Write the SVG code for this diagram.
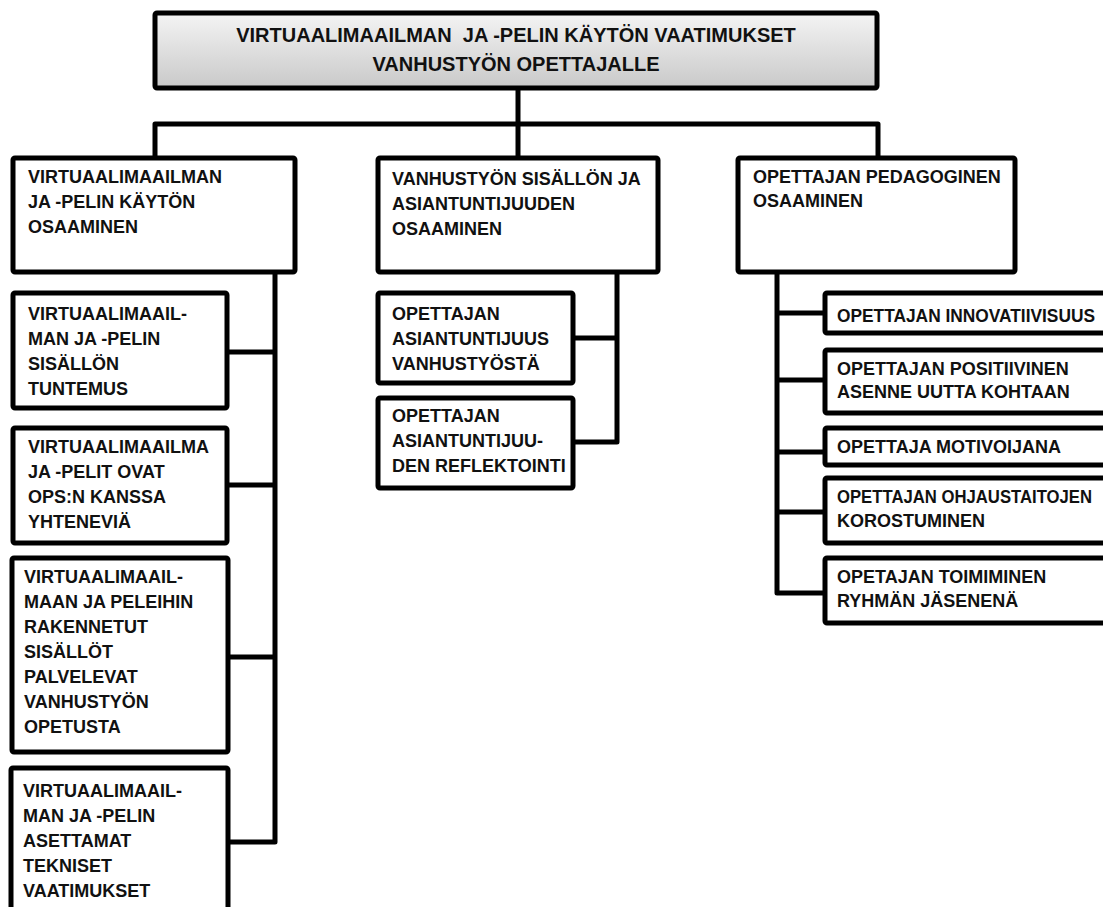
<svg xmlns="http://www.w3.org/2000/svg" width="1103" height="907" viewBox="0 0 1103 907">
<defs>
<linearGradient id="tg" x1="0" y1="0" x2="0" y2="1">
<stop offset="0" stop-color="#f4f4f4"/>
<stop offset="1" stop-color="#c9c9c9"/>
</linearGradient>
</defs>
<style>
.box{fill:#fff;stroke:#000;stroke-width:5;stroke-linejoin:round}
.title{fill:url(#tg);stroke:#000;stroke-width:5;stroke-linejoin:round}
.ln{fill:none;stroke:#000;stroke-width:5;stroke-linejoin:round}
text{font-family:"Liberation Sans",Arial,sans-serif;font-weight:bold;font-size:18px;fill:#111}
.tt{font-size:20px;text-anchor:middle;white-space:pre}
</style>
<rect width="1103" height="907" fill="#fff"/>
<g id="connectors">
<path class="ln" d="M518,88 V158"/>
<path class="ln" d="M155,158 V124 H878 V158"/>
<path class="ln" d="M275,272 V842 H227 M227,352 H275 M227,485 H275 M228,657 H275"/>
<path class="ln" d="M617,272 V442 H573 M573,338 H617"/>
<path class="ln" d="M777,272 V593 H825 M777,313 H825 M777,380 H825 M777,452 H825 M777,512 H825"/>
</g>
<g id="title">
<rect class="title" x="155" y="13" width="722" height="75" rx="2"/>
<text class="tt" x="516" y="42" xml:space="preserve">VIRTUAALIMAAILMAN  JA -PELIN KÄYTÖN VAATIMUKSET</text>
<text class="tt" x="516" y="71">VANHUSTYÖN OPETTAJALLE</text>
</g>
<g id="c1">
<rect class="box" x="13" y="158" width="282" height="114" rx="2"/>
<text x="28" y="183">VIRTUAALIMAAILMAN</text>
<text x="28" y="208">JA -PELIN KÄYTÖN</text>
<text x="28" y="233">OSAAMINEN</text>
</g>
<g id="c1a">
<rect class="box" x="13" y="293" width="214" height="115" rx="2"/>
<text x="28" y="320">VIRTUAALIMAAIL-</text>
<text x="28" y="345">MAN JA -PELIN</text>
<text x="28" y="370">SISÄLLÖN</text>
<text x="28" y="395">TUNTEMUS</text>
</g>
<g id="c1b">
<rect class="box" x="13" y="428" width="214" height="115" rx="2"/>
<text x="28" y="453">VIRTUAALIMAAILMA</text>
<text x="28" y="478">JA -PELIT OVAT</text>
<text x="28" y="503">OPS:N KANSSA</text>
<text x="28" y="528">YHTENEVIÄ</text>
</g>
<g id="c1c">
<rect class="box" x="12" y="558" width="216" height="194" rx="2"/>
<text x="24" y="583">VIRTUAALIMAAIL-</text>
<text x="24" y="608">MAAN JA PELEIHIN</text>
<text x="24" y="633">RAKENNETUT</text>
<text x="24" y="658">SISÄLLÖT</text>
<text x="24" y="683">PALVELEVAT</text>
<text x="24" y="708">VANHUSTYÖN</text>
<text x="24" y="733">OPETUSTA</text>
</g>
<g id="c1d">
<rect class="box" x="11" y="768" width="217" height="150" rx="2"/>
<text x="23" y="797">VIRTUAALIMAAIL-</text>
<text x="23" y="822">MAN JA -PELIN</text>
<text x="23" y="847">ASETTAMAT</text>
<text x="23" y="872">TEKNISET</text>
<text x="23" y="897">VAATIMUKSET</text>
</g>
<g id="c2">
<rect class="box" x="378" y="158" width="280" height="114" rx="2"/>
<text x="392" y="185">VANHUSTYÖN SISÄLLÖN JA</text>
<text x="392" y="210">ASIANTUNTIJUUDEN</text>
<text x="392" y="235">OSAAMINEN</text>
</g>
<g id="c2a">
<rect class="box" x="378" y="293" width="195" height="90" rx="2"/>
<text x="392" y="320">OPETTAJAN</text>
<text x="392" y="345">ASIANTUNTIJUUS</text>
<text x="392" y="370">VANHUSTYÖSTÄ</text>
</g>
<g id="c2b">
<rect class="box" x="378" y="398" width="195" height="90" rx="2"/>
<text x="392" y="422">OPETTAJAN</text>
<text x="392" y="447">ASIANTUNTIJUU-</text>
<text x="392" y="472">DEN REFLEKTOINTI</text>
</g>
<g id="c3">
<rect class="box" x="738" y="158" width="277" height="114" rx="2"/>
<text x="753" y="183">OPETTAJAN PEDAGOGINEN</text>
<text x="753" y="207">OSAAMINEN</text>
</g>
<g id="c3a">
<rect class="box" x="825" y="293" width="290" height="40" rx="2"/>
<text x="837" y="322" textLength="258" lengthAdjust="spacingAndGlyphs">OPETTAJAN INNOVATIIVISUUS</text>
</g>
<g id="c3b">
<rect class="box" x="825" y="350" width="290" height="63" rx="2"/>
<text x="837" y="375">OPETTAJAN POSITIIVINEN</text>
<text x="837" y="398">ASENNE UUTTA KOHTAAN</text>
</g>
<g id="c3c">
<rect class="box" x="825" y="428" width="290" height="37" rx="2"/>
<text x="837" y="453">OPETTAJA MOTIVOIJANA</text>
</g>
<g id="c3d">
<rect class="box" x="825" y="478" width="290" height="65" rx="2"/>
<text x="837" y="503" textLength="255" lengthAdjust="spacingAndGlyphs">OPETTAJAN OHJAUSTAITOJEN</text>
<text x="837" y="527">KOROSTUMINEN</text>
</g>
<g id="c3e">
<rect class="box" x="825" y="558" width="290" height="65" rx="2"/>
<text x="837" y="583">OPETAJAN TOIMIMINEN</text>
<text x="837" y="607">RYHMÄN JÄSENENÄ</text>
</g>
</svg>
